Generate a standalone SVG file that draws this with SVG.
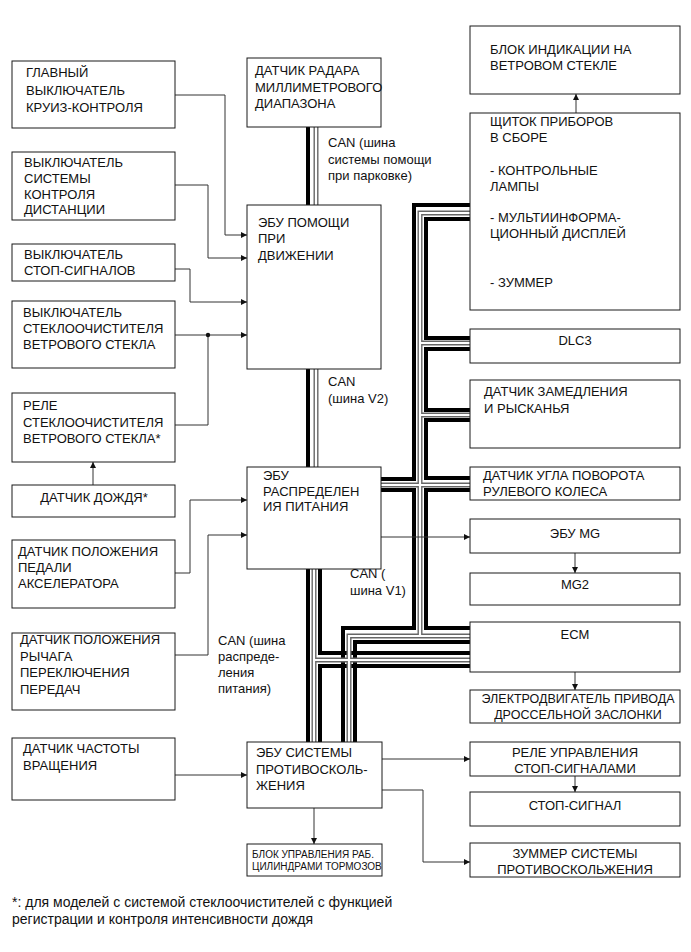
<svg xmlns="http://www.w3.org/2000/svg" width="691" height="952" viewBox="0 0 691 952">
<style>
.b{fill:#fff;stroke:#1a1a1a;stroke-width:1}
.t{font-family:"Liberation Sans",Arial,sans-serif;font-size:13px;fill:#111}
.s{font-family:"Liberation Sans",Arial,sans-serif;font-size:10px;fill:#111}
.f{font-size:14px}
.n{font-size:12.5px}
.m{text-anchor:middle}
.c{fill:none;stroke:#333;stroke-width:1}
.A{fill:none;stroke:#000;stroke-width:4;stroke-linejoin:miter}
.Bo{fill:none;stroke:#666;stroke-width:5;stroke-linejoin:miter}
.Bi{fill:none;stroke:#fff;stroke-width:2.2;stroke-linejoin:miter}
</style>
<defs>
<marker id="ah" viewBox="0 0 10 10" refX="10" refY="5" markerWidth="8" markerHeight="6" orient="auto" markerUnits="userSpaceOnUse"><path d="M0,0 L10,5 L0,10 z" fill="#111"/></marker>
</defs>
<rect width="691" height="952" fill="#fff"/>

<g id="connectors">
<g id="bus-thick">
<path class="A" d="M308,127 V205"/>
<path class="A" d="M308,369 V467"/>
<path class="A" d="M308,569 V742"/>
<path class="A" d="M320,569 V653 H470"/>
<path class="A" d="M470,666 H320 V742"/>
<path class="A" d="M381,479 H414 V205 H470"/>
<path class="A" d="M381,490 H414 V628 H343 V742"/>
<path class="A" d="M470,219 H426 V338 H470"/>
<path class="A" d="M470,349 H426 V410 H470"/>
<path class="A" d="M470,420 H426 V478 H470"/>
<path class="A" d="M470,490 H426 V628 H470"/>
<path class="A" d="M470,642 H355 V742"/>
</g>
<g id="bus-double">
<g class="Bo">
<path d="M316,127 V205"/>
<path d="M316,369 V467"/>
<path d="M314,569 V742"/>
<path d="M314,660 H470"/>
<path d="M470,213 H420 V636"/>
<path d="M420,343 H470"/>
<path d="M420,415 H470"/>
<path d="M381,485 H470"/>
<path d="M349,742 V636 H470"/>
</g>
<g class="Bi">
<path d="M316,127 V205"/>
<path d="M316,369 V467"/>
<path d="M314,569 V742"/>
<path d="M314,660 H470"/>
<path d="M470,213 H420 V636"/>
<path d="M420,343 H470"/>
<path d="M420,415 H470"/>
<path d="M381,485 H470"/>
<path d="M349,742 V636 H470"/>
</g>
</g>
<g id="signals">
<path class="c" d="M175,95 H225 V235 H247" marker-end="url(#ah)"/>
<path class="c" d="M175,185 H208 V258 H247" marker-end="url(#ah)"/>
<path class="c" d="M175,269 H190 V302 H247" marker-end="url(#ah)"/>
<path class="c" d="M175,335 H247" marker-end="url(#ah)"/>
<path class="c" d="M175,425 H208 V335"/>
<circle cx="208" cy="335" r="2.2" fill="#111"/>
<path class="c" d="M93,485 V462" marker-end="url(#ah)"/>
<path class="c" d="M175,573 H190 V500 H247" marker-end="url(#ah)"/>
<path class="c" d="M175,655 H208 V535 H247" marker-end="url(#ah)"/>
<path class="c" d="M175,775 H247" marker-end="url(#ah)"/>
<path class="c" d="M382,759 H470" marker-end="url(#ah)"/>
<path class="c" d="M382,790 H423 V862 H470" marker-end="url(#ah)"/>
<path class="c" d="M314,808 V844" marker-end="url(#ah)"/>
<path class="c" d="M575,776 V792" marker-end="url(#ah)"/>
<path class="c" d="M575,553 V573" marker-end="url(#ah)"/>
<path class="c" d="M575,672 V690" marker-end="url(#ah)"/>
<path class="c" d="M576,113 V94" marker-end="url(#ah)"/>
<path class="c" d="M381,537 H470" marker-end="url(#ah)"/>
</g>
</g>

<g id="cruise-switch"><rect class="b" x="12" y="61" width="163" height="67"/>
<text class="t" x="26" y="77">ГЛАВНЫЙ</text><text class="t" x="26" y="94.5">ВЫКЛЮЧАТЕЛЬ</text><text class="t" x="26" y="112">КРУИЗ-КОНТРОЛЯ</text></g>

<g id="distance-switch"><rect class="b" x="12" y="152" width="163" height="68"/>
<text class="t" x="24" y="166.5">ВЫКЛЮЧАТЕЛЬ</text><text class="t" x="24" y="182.5">СИСТЕМЫ</text><text class="t" x="24" y="198.5">КОНТРОЛЯ</text><text class="t" x="24" y="214">ДИСТАНЦИИ</text></g>

<g id="stop-switch"><rect class="b" x="12" y="244" width="163" height="37"/>
<text class="t" x="24" y="259">ВЫКЛЮЧАТЕЛЬ</text><text class="t" x="24" y="275">СТОП-СИГНАЛОВ</text></g>

<g id="wiper-switch"><rect class="b" x="12" y="301" width="163" height="67"/>
<text class="t" x="23" y="316.5">ВЫКЛЮЧАТЕЛЬ</text><text class="t" x="23" y="332.5">СТЕКЛООЧИСТИТЕЛЯ</text><text class="t" x="23" y="348.5">ВЕТРОВОГО СТЕКЛА</text></g>

<g id="wiper-relay"><rect class="b" x="12" y="393" width="163" height="69"/>
<text class="t" x="23" y="410">РЕЛЕ</text><text class="t" x="23" y="426.5">СТЕКЛООЧИСТИТЕЛЯ</text><text class="t" x="23" y="443">ВЕТРОВОГО СТЕКЛА*</text></g>

<g id="rain-sensor"><rect class="b" x="12" y="485" width="163" height="32"/>
<text class="t m" x="94" y="501.5">ДАТЧИК ДОЖДЯ*</text></g>

<g id="pedal-sensor"><rect class="b" x="12" y="540" width="163" height="68"/>
<text class="t" x="18" y="556">ДАТЧИК ПОЛОЖЕНИЯ</text><text class="t" x="18" y="572">ПЕДАЛИ</text><text class="t" x="18" y="588">АКСЕЛЕРАТОРА</text></g>

<g id="shift-sensor"><rect class="b" x="12" y="633" width="163" height="77"/>
<text class="t" x="20" y="644">ДАТЧИК ПОЛОЖЕНИЯ</text><text class="t" x="20" y="660.5">РЫЧАГА</text><text class="t" x="20" y="677">ПЕРЕКЛЮЧЕНИЯ</text><text class="t" x="20" y="693.5">ПЕРЕДАЧ</text></g>

<g id="speed-sensor"><rect class="b" x="12" y="738" width="163" height="62"/>
<text class="t" x="23" y="753">ДАТЧИК ЧАСТОТЫ</text><text class="t" x="23" y="770">ВРАЩЕНИЯ</text></g>

<g id="radar"><rect class="b" x="247" y="58" width="134" height="69"/>
<text class="t" x="255" y="75">ДАТЧИК РАДАРА</text><text class="t" x="255" y="91.5">МИЛЛИМЕТРОВОГО</text><text class="t" x="255" y="108">ДИАПАЗОНА</text></g>

<g id="driving-support-ecu"><rect class="b" x="247" y="205" width="134" height="164"/>
<text class="t" x="258" y="226.5">ЭБУ ПОМОЩИ</text><text class="t" x="258" y="243">ПРИ</text><text class="t" x="258" y="259.5">ДВИЖЕНИИ</text></g>

<g id="power-ecu"><rect class="b" x="247" y="467" width="134" height="102"/>
<text class="t" x="263" y="480">ЭБУ</text><text class="t" x="263" y="495.5">РАСПРЕДЕЛЕН</text><text class="t" x="263" y="511">ИЯ ПИТАНИЯ</text></g>

<g id="skid-ecu"><rect class="b" x="247" y="742" width="135" height="66"/>
<text class="t" x="256" y="757">ЭБУ СИСТЕМЫ</text><text class="t" x="256" y="773.5">ПРОТИВОСКОЛЬ-</text><text class="t" x="256" y="790">ЖЕНИЯ</text></g>

<g id="brake-actuator"><rect class="b" x="247" y="844" width="135" height="32"/>
<text class="s" x="252" y="858">БЛОК УПРАВЛЕНИЯ РАБ.</text><text class="s" x="252" y="870">ЦИЛИНДРАМИ ТОРМОЗОВ</text></g>

<g id="hud"><rect class="b" x="470" y="26" width="210" height="68"/>
<text class="t" x="490" y="54">БЛОК ИНДИКАЦИИ НА</text><text class="t" x="490" y="70">ВЕТРОВОМ СТЕКЛЕ</text></g>

<g id="combination-meter"><rect class="b" x="470" y="113" width="210" height="197"/>
<text class="t" x="490" y="126">ЩИТОК ПРИБОРОВ</text><text class="t" x="490" y="142">В СБОРЕ</text>
<text class="t" x="490" y="175">- КОНТРОЛЬНЫЕ</text><text class="t" x="490" y="191">ЛАМПЫ</text>
<text class="t" x="490" y="222">- МУЛЬТИИНФОРМА-</text><text class="t" x="490" y="238">ЦИОННЫЙ ДИСПЛЕЙ</text>
<text class="t" x="490" y="287">- ЗУММЕР</text></g>

<g id="dlc3"><rect class="b" x="470" y="329" width="210" height="34"/>
<text class="t m" x="575" y="345">DLC3</text></g>

<g id="yaw-sensor"><rect class="b" x="470" y="380" width="210" height="68"/>
<text class="t" x="484" y="396">ДАТЧИК ЗАМЕДЛЕНИЯ</text><text class="t" x="484" y="413">И РЫСКАНЬЯ</text></g>

<g id="steering-sensor"><rect class="b" x="470" y="467" width="210" height="33"/>
<text class="t" x="483" y="480">ДАТЧИК УГЛА ПОВОРОТА</text><text class="t" x="483" y="496">РУЛЕВОГО КОЛЕСА</text></g>

<g id="mg-ecu"><rect class="b" x="470" y="519" width="210" height="34"/>
<text class="t m" x="575" y="538">ЭБУ MG</text></g>

<g id="mg2"><rect class="b" x="470" y="573" width="210" height="32"/>
<text class="t m" x="575" y="589">MG2</text></g>

<g id="ecm"><rect class="b" x="470" y="622" width="210" height="50"/>
<text class="t m" x="575" y="639">ECM</text></g>

<g id="throttle-motor"><rect class="b" x="470" y="690" width="210" height="33"/>
<text class="t n m" x="578" y="703">ЭЛЕКТРОДВИГАТЕЛЬ ПРИВОДА</text><text class="t n m" x="578" y="719">ДРОССЕЛЬНОЙ ЗАСЛОНКИ</text></g>

<g id="stop-relay"><rect class="b" x="470" y="742" width="210" height="34"/>
<text class="t m" x="575" y="757">РЕЛЕ УПРАВЛЕНИЯ</text><text class="t m" x="575" y="773">СТОП-СИГНАЛАМИ</text></g>

<g id="stop-light"><rect class="b" x="470" y="792" width="210" height="34"/>
<text class="t m" x="575" y="810">СТОП-СИГНАЛ</text></g>

<g id="skid-buzzer"><rect class="b" x="470" y="843" width="210" height="34"/>
<text class="t m" x="575" y="858">ЗУММЕР СИСТЕМЫ</text><text class="t m" x="575" y="874">ПРОТИВОСКОЛЬЖЕНИЯ</text></g>

<g id="labels">
<text class="t" x="328" y="147">CAN (шина</text><text class="t" x="328" y="164">системы помощи</text><text class="t" x="328" y="180">при парковке)</text>
<text class="t" x="328" y="386">CAN</text><text class="t" x="328" y="403">(шина V2)</text>
<text class="t" x="350" y="578">CAN (</text><text class="t" x="350" y="595">шина V1)</text>
<text class="t" x="218" y="645">CAN (шина</text><text class="t" x="218" y="661">распреде-</text><text class="t" x="218" y="677">ления</text><text class="t" x="218" y="693">питания)</text>
<text class="t f" x="12" y="907">*: для моделей с системой стеклоочистителей с функцией</text>
<text class="t f" x="12" y="924">регистрации и контроля интенсивности дождя</text>
</g>
</svg>
